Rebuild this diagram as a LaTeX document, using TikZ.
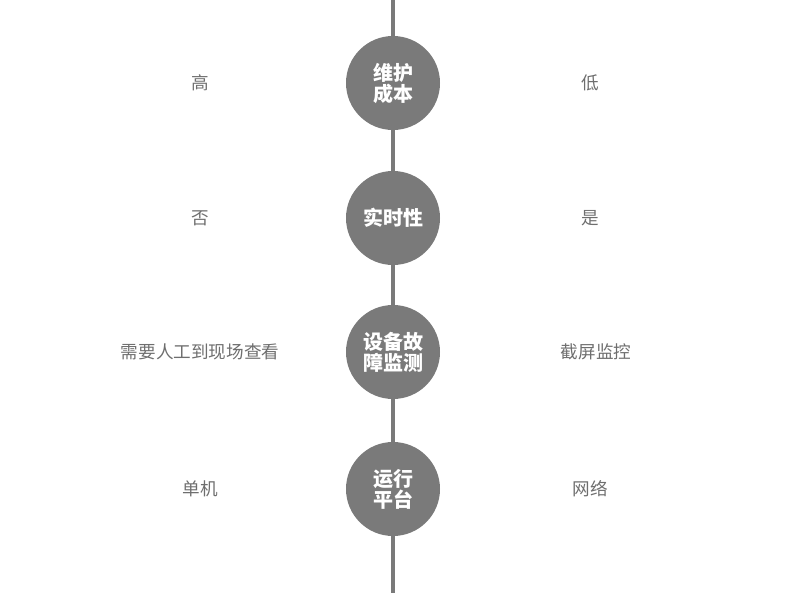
\documentclass[tikz,border=0pt]{standalone}
\usepackage{fontspec}
\setmainfont{Noto Sans CJK SC}
\usepackage{xcolor}
\usepackage{tikz}
\usetikzlibrary{positioning}
\definecolor{stemgray}{HTML}{7A7A7A}
\definecolor{textgray}{HTML}{6E6E6E}

\begin{document}
\begin{tikzpicture}[
    x=1pt, y=-1pt,
    topic/.style={circle, fill=stemgray, minimum size=94pt, inner sep=0pt,
                  align=center, text=white, font=\fontsize{20}{21}\selectfont\bfseries},
    side/.style={text=textgray, font=\fontsize{17.6}{19}\selectfont},
    stem/.style={draw=stemgray, line width=4pt}
]
\useasboundingbox (0,0) rectangle (790,593);

\coordinate (top) at (393,0);
\coordinate (bot) at (393,593);

\node[topic] (cost) at (393,83) {维护\\成本};
\node[topic] (realtime) at (393,218) {实时性};
\node[topic] (monitor) at (393,352) {设备故\\障监测};
\node[topic] (platform) at (393,489) {运行\\平台};

\node[side] (costl) at (200,83) {高};
\node[side] (costr) at (590,83) {低};
\node[side] (realtimel) at (200,218) {否};
\node[side] (realtimer) at (590,218) {是};
\node[side] (monitorl) at (200,352) {需要人工到现场查看};
\node[side] (monitorr) at (596,352) {截屏监控};
\node[side] (platforml) at (200,489) {单机};
\node[side] (platformr) at (590,489) {网络};

\draw[stem] (top) -- (cost);
\draw[stem] (cost) -- (realtime);
\draw[stem] (realtime) -- (monitor);
\draw[stem] (monitor) -- (platform);
\draw[stem] (platform) -- (bot);
\end{tikzpicture}
\end{document}
